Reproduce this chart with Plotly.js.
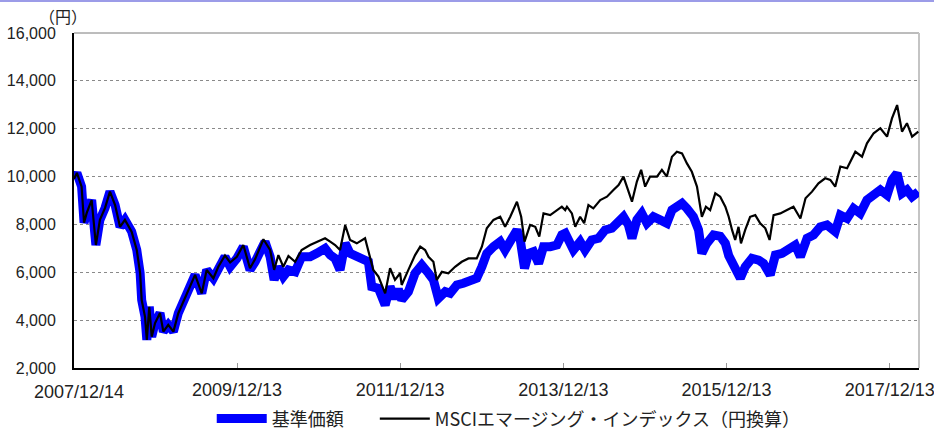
<!DOCTYPE html>
<html><head><meta charset="utf-8">
<script src="https://cdn.plot.ly/plotly-3.0.1.min.js"></script>
<style>
html,body{margin:0;padding:0;background:#fff;}
#topline{position:absolute;left:0;top:0;width:934px;height:2px;background:#9c9ce8;z-index:5;}
#chart{width:934px;height:430px;}
</style></head>
<body>
<div id="topline"></div>
<div id="chart"></div>
<script>
const navName = "基準価額　\u00a0\u00a0";
const msciName = "MSCIエマージング・インデックス（円換算）";
const navDates = ["2007-12-14","2007-12-27","2008-01-17","2008-01-28","2008-02-09","2008-03-02","2008-03-21","2008-04-08","2008-05-01","2008-05-23","2008-06-15","2008-07-07","2008-07-29","2008-08-28","2008-09-20","2008-10-05","2008-10-12","2008-10-27","2008-11-04","2008-11-15","2008-11-26","2008-12-11","2009-01-02","2009-01-17","2009-02-08","2009-03-03","2009-03-25","2009-04-24","2009-05-16","2009-06-08","2009-07-08","2009-07-30","2009-08-29","2009-09-20","2009-10-20","2009-11-12","2009-12-12","2010-01-10","2010-02-09","2010-03-04","2010-04-03","2010-04-17","2010-05-10","2010-05-28","2010-06-16","2010-07-08","2010-07-31","2010-08-30","2010-09-28","2010-11-05","2010-12-05","2011-01-11","2011-02-03","2011-02-25","2011-03-19","2011-04-11","2011-05-03","2011-06-02","2011-07-02","2011-07-24","2011-08-08","2011-09-07","2011-10-07","2011-10-29","2011-11-20","2011-12-05","2011-12-20","2012-01-19","2012-02-18","2012-03-19","2012-04-18","2012-05-10","2012-06-01","2012-07-02","2012-07-24","2012-08-23","2012-09-21","2012-10-21","2012-11-20","2012-12-13","2013-01-04","2013-02-03","2013-03-05","2013-03-27","2013-04-19","2013-05-19","2013-06-03","2013-06-22","2013-07-10","2013-08-01","2013-08-24","2013-09-15","2013-10-15","2013-11-14","2013-12-06","2013-12-21","2014-01-27","2014-02-26","2014-03-20","2014-04-19","2014-05-19","2014-06-18","2014-07-18","2014-08-10","2014-09-08","2014-09-30","2014-10-16","2014-11-07","2014-11-29","2014-12-22","2015-01-20","2015-02-19","2015-03-21","2015-04-13","2015-05-05","2015-05-28","2015-06-19","2015-07-18","2015-08-10","2015-08-25","2015-09-16","2015-10-16","2015-11-15","2015-12-08","2015-12-23","2016-01-07","2016-01-29","2016-02-13","2016-03-06","2016-04-05","2016-05-05","2016-05-27","2016-06-26","2016-07-19","2016-08-18","2016-09-16","2016-10-16","2016-11-08","2016-12-08","2017-01-06","2017-02-05","2017-03-07","2017-04-13","2017-05-06","2017-06-05","2017-07-04","2017-08-03","2017-09-02","2017-10-02","2017-11-01","2017-12-01","2017-12-23","2018-01-15","2018-02-06","2018-02-28","2018-03-23","2018-04-20"];
const navValues = [9900,10150,9580,8070,8480,9020,7140,8190,8690,9370,8810,7900,8190,7700,6930,5970,4840,4140,3170,4560,3310,3880,4300,3520,3800,3520,4290,4910,5400,5890,5120,6100,5750,6230,6650,6230,6580,7070,6100,6440,7000,7280,6650,5680,6230,5820,6100,6020,6650,6650,6790,7000,6720,6580,6100,7210,6790,6650,6580,6440,5400,5330,4630,5400,4900,5300,4840,5190,5960,6300,5960,5680,4910,5190,5120,5470,5540,5680,5750,6230,6790,7070,7280,6930,7280,7770,7350,6170,6790,6860,6370,7070,7070,7140,7560,7630,6930,7280,6930,7350,7420,7770,7840,8050,8320,7980,7420,8190,8460,8050,8320,8190,8050,8600,8740,8880,8670,8320,7770,6790,7210,7560,7500,7210,6700,6370,5960,5750,6230,6580,6510,6370,5890,6720,6790,6930,7140,6650,7420,7560,7900,7980,7700,8390,8250,8670,8460,9020,9230,9440,9230,9860,10140,9300,9440,9160,9370];
const msciDates = ["2007-12-14","2007-12-27","2008-01-17","2008-01-28","2008-02-09","2008-03-02","2008-03-21","2008-04-08","2008-05-01","2008-05-23","2008-06-15","2008-07-07","2008-07-29","2008-08-28","2008-09-20","2008-10-05","2008-10-12","2008-10-27","2008-11-04","2008-11-15","2008-11-26","2008-12-11","2009-01-02","2009-01-17","2009-02-08","2009-03-03","2009-03-25","2009-04-24","2009-05-16","2009-06-08","2009-07-08","2009-07-30","2009-08-29","2009-09-20","2009-10-20","2009-11-12","2009-12-12","2010-01-10","2010-02-09","2010-03-04","2010-04-10","2010-05-10","2010-05-28","2010-06-16","2010-07-08","2010-07-31","2010-08-30","2010-09-28","2010-11-05","2010-12-05","2011-01-11","2011-02-03","2011-02-25","2011-03-19","2011-04-11","2011-05-03","2011-06-02","2011-07-09","2011-07-24","2011-08-15","2011-09-07","2011-10-07","2011-10-29","2011-11-20","2011-12-13","2011-12-20","2012-01-19","2012-02-18","2012-03-12","2012-04-03","2012-04-18","2012-05-10","2012-05-25","2012-06-17","2012-07-16","2012-08-15","2012-09-14","2012-10-14","2012-11-20","2012-12-13","2013-01-04","2013-02-03","2013-03-05","2013-03-27","2013-04-19","2013-05-19","2013-06-07","2013-06-22","2013-07-17","2013-08-09","2013-08-27","2013-09-15","2013-10-15","2013-11-14","2013-12-06","2013-12-21","2013-12-29","2014-01-20","2014-02-04","2014-02-26","2014-03-16","2014-04-04","2014-04-26","2014-05-27","2014-06-26","2014-07-25","2014-08-17","2014-09-08","2014-09-23","2014-10-16","2014-11-07","2014-11-26","2014-12-14","2015-01-05","2015-02-05","2015-02-27","2015-03-21","2015-04-13","2015-05-05","2015-05-28","2015-06-19","2015-07-11","2015-08-03","2015-08-25","2015-09-12","2015-10-01","2015-10-24","2015-11-15","2015-12-08","2015-12-23","2016-01-07","2016-01-21","2016-02-05","2016-02-16","2016-03-06","2016-03-28","2016-04-20","2016-05-12","2016-06-04","2016-06-23","2016-07-11","2016-08-10","2016-09-09","2016-10-08","2016-11-08","2016-12-01","2016-12-30","2017-01-28","2017-02-27","2017-03-22","2017-04-13","2017-05-06","2017-06-05","2017-07-12","2017-08-11","2017-09-02","2017-10-02","2017-11-01","2017-12-01","2017-12-23","2018-01-15","2018-02-06","2018-02-28","2018-03-23","2018-04-20"];
const msciValues = [9900,10150,9580,8070,8480,9020,7140,8190,8690,9370,8810,7900,8190,7700,6930,5970,4840,4140,3170,4560,3310,3880,4300,3520,3800,3520,4290,4910,5400,5890,5120,6100,5750,6230,6700,6410,6650,7140,6170,6550,7380,6930,6100,6720,6230,6680,6440,6930,7140,7280,7420,7280,7140,6930,7970,7350,7210,7420,6930,6100,5820,5120,6170,5680,5960,5470,6100,6720,7070,6930,6650,6440,5680,6020,5960,6230,6440,6580,6580,7070,7840,8190,8320,7900,8320,8950,8320,7280,7980,7900,7490,8460,8390,8600,8740,8600,8740,8460,7900,8320,8050,8810,8670,9020,9160,9440,9650,10000,9580,8950,9790,10280,9580,10000,10000,10280,10000,10830,11040,10970,10550,10200,9580,8320,8740,8600,9300,9160,8740,8320,7770,7350,7900,7210,7770,8320,8390,8050,7840,7350,8390,8460,8600,8740,8250,9090,9370,9720,9930,9860,9580,10420,10350,11040,10830,11390,11810,12020,11670,12430,12990,11880,12230,11670,11880];
const xTickVals = ["2009-12-13","2011-12-13","2013-12-13","2015-12-13","2017-12-13"];
const xTickText = ["2009/12/13","2011/12/13","2013/12/13","2015/12/13","2017/12/13"];
const firstDateLabel = "2007/12/14";
const yTickVals = [2000,4000,6000,8000,10000,12000,14000,16000];
const yUnit = "（円）";

const FONT = '"Noto Sans CJK JP", "Liberation Sans", sans-serif';
const traces = [
  {x: navDates, y: navValues, name: navName, type: 'scatter', mode: 'lines',
   line: {color: '#0000ff', width: 9}},
  {x: msciDates, y: msciValues, name: msciName, type: 'scatter', mode: 'lines',
   line: {color: '#000000', width: 2.2}}
];
const layout = {
  width: 934, height: 430,
  margin: {l: 74, r: 15, t: 33, b: 62, autoexpand: false},
  paper_bgcolor: '#ffffff', plot_bgcolor: '#ffffff',
  font: {family: FONT, color: '#222'},
  showlegend: true,
  legend: {orientation: 'h', x: 0.163, xanchor: 'left', y: -0.152, yanchor: 'middle',
           font: {size: 18, family: FONT, color: '#222'}, itemwidth: 50,
           bgcolor: 'rgba(0,0,0,0)'},
  xaxis: {type: 'date', range: ['2007-12-14', '2018-04-23'],
          tickvals: xTickVals, ticktext: xTickText,
          ticks: 'inside', ticklen: 5, tickcolor: '#999', tickwidth: 1,
          showgrid: false, zeroline: false,
          showline: true, linecolor: '#000', linewidth: 2,
          tickfont: {size: 18, family: '"Liberation Sans", sans-serif', color: '#222'},
          ticklabelstandoff: 4, ticklabeloverflow: 'allow'},
  yaxis: {range: [2000, 16000], tickvals: yTickVals, tickformat: ',',
          showgrid: true, gridcolor: '#8a8a8a', griddash: 'dot', gridwidth: 1,
          zeroline: false, showline: true, linecolor: '#000', linewidth: 2,
          ticks: '', tickfont: {size: 16, family: '"Liberation Sans", sans-serif', color: '#222'},
          ticklabelstandoff: 13, ticklabeloverflow: 'allow'},
  shapes: [
    {type: 'line', xref: 'paper', yref: 'paper', x0: 0, x1: 1, y0: 1, y1: 1,
     line: {color: '#7a7a7a', width: 1}, layer: 'below'},
    {type: 'line', xref: 'paper', yref: 'paper', x0: 1, x1: 1, y0: 0, y1: 1,
     line: {color: '#c4c4c4', width: 2}, layer: 'below'}
  ],
  annotations: [
    {text: yUnit, xref: 'paper', yref: 'paper', x: -0.013, y: 1.05, xanchor: 'center', yanchor: 'middle',
     showarrow: false, font: {size: 16, family: FONT, color: '#222'}},
    {text: firstDateLabel, xref: 'paper', yref: 'paper', x: 0.006, y: -0.073, xanchor: 'center', yanchor: 'middle',
     showarrow: false, font: {size: 18, family: '"Liberation Sans", sans-serif', color: '#222'}}
  ]
};
Plotly.newPlot('chart', traces, layout, {displayModeBar: false, staticPlot: true});
</script>
</body></html>
